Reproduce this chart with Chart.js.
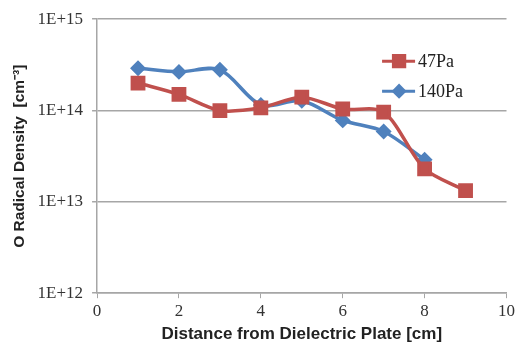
<!DOCTYPE html>
<html>
<head>
<meta charset="utf-8">
<script src="https://cdn.jsdelivr.net/npm/chart.js@4"></script>
<style>
  html, body { margin: 0; padding: 0; background: #fff; }
  #wrap { width: 518px; height: 347px; }
</style>
</head>
<body>
<div id="wrap"><canvas id="myChart1"></canvas></div>
<script>
// data
const xs140 = [1, 2, 3, 4, 5, 6, 7, 8];
const xs47 = [1, 2, 3, 4, 5, 6, 7, 8, 9];
const density47 = [2.0e14, 1.5e14, 1.0e14, 1.07e14, 1.4e14, 1.04e14, 0.96e14, 2.3e13, 1.33e13];
const density140 = [2.9e14, 2.65e14, 2.8e14, 1.15e14, 1.28e14, 7.8e13, 5.9e13, 2.9e13];
const seriesNames = ['47Pa', '140Pa'];
const yTicks = [1e12, 1e13, 1e14, 1e15];

const red = '#C0504D';
const blue = '#4F81BD';
const gridGray = '#a6a6a6';

const toPoints = (xs, ys) => xs.map((x, i) => ({ x: x, y: ys[i] }));

// legend drawn inside the plot, Excel style (line + marker + text)
const innerLegend = {
    id: 'innerLegend',
    afterDraw(chart) {
        const ctx = chart.ctx;
        const area = chart.chartArea;
        const x0 = area.left + 285;
        const rows = [area.top + 42, area.top + 72];
        chart.data.datasets.forEach((ds, i) => {
            const y = rows[i];
            ctx.save();
            ctx.strokeStyle = ds.borderColor;
            ctx.lineWidth = 3;
            ctx.beginPath();
            ctx.moveTo(x0, y);
            ctx.lineTo(x0 + 33, y);
            ctx.stroke();
            ctx.fillStyle = ds.backgroundColor;
            ctx.strokeStyle = ds.borderColor;
            Chart.helpers.drawPoint(ctx, {
                pointStyle: ds.pointStyle,
                radius: ds.pointRadius,
                borderWidth: 1
            }, x0 + 17, y);
            ctx.fillStyle = '#222';
            ctx.font = '18px "Liberation Serif"';
            ctx.textBaseline = 'middle';
            ctx.fillText(ds.label, x0 + 36, y + 1);
            ctx.restore();
        });
    }
};

const data = {
    datasets: [{
        label: seriesNames[0],
        data: toPoints(xs47, density47),
        borderColor: red,
        backgroundColor: red,
        borderWidth: 3.5,
        pointStyle: 'rect',
        pointRadius: 8,
        tension: 0.3
    }, {
        label: seriesNames[1],
        data: toPoints(xs140, density140),
        borderColor: blue,
        backgroundColor: blue,
        borderWidth: 3.5,
        pointStyle: 'rectRot',
        pointRadius: 5.5,
        tension: 0.3
    }]
};

const config = {
    type: 'line',
    data: data,
    plugins: [innerLegend],
    options: {
        responsive: true,
        maintainAspectRatio: false,
        animation: false,
        layout: { padding: { top: 4, right: 0, left: 10, bottom: 2 } },
        plugins: {
            legend: { display: false },
            tooltip: { enabled: false }
        },
        scales: {
            x: {
                type: 'linear',
                min: 0,
                max: 10,
                ticks: {
                    stepSize: 2,
                    color: '#333',
                    font: { family: 'Liberation Serif', size: 17 },
                    padding: 3
                },
                grid: { drawOnChartArea: false, drawTicks: true, tickLength: 5, color: gridGray },
                border: { color: gridGray, width: 1.5 },
                title: {
                    display: true,
                    text: 'Distance from Dielectric Plate [cm]',
                    color: '#222',
                    font: { family: 'Liberation Sans', size: 17, weight: 'bold' },
                    padding: { top: 0, bottom: 0 }
                }
            },
            y: {
                type: 'logarithmic',
                min: 1e12,
                max: 1e15,
                afterBuildTicks: (axis) => { axis.ticks = yTicks.map(v => ({ value: v })); },
                ticks: {
                    color: '#333',
                    font: { family: 'Liberation Serif', size: 17 },
                    padding: 9,
                    callback: (v) => '1E+' + Math.round(Math.log10(v))
                },
                grid: { color: gridGray, lineWidth: 1.5, tickLength: 5 },
                border: { color: gridGray, width: 1.5 },
                title: {
                    display: true,
                    text: 'O Radical Density  [cm\u207B\u00B3]',
                    color: '#222',
                    font: { family: 'Liberation Sans', size: 15.5, weight: 'bold' },
                    padding: { top: 0, bottom: 0 }
                }
            }
        }
    }
};
// eslint-disable-next-line
const myChart1 = new Chart(
    document.getElementById('myChart1'),
    config
);
</script>
</body>
</html>
